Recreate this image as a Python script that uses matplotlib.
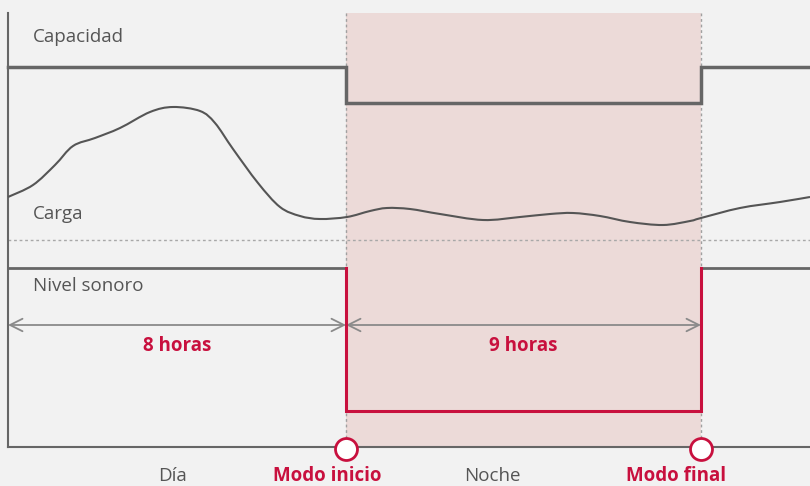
import numpy as np
import matplotlib.pyplot as plt
from matplotlib.path import Path
from matplotlib.patches import PathPatch

# schematic coordinates (x: time, y: level, top = 0)
x_start, x_mode_on, x_mode_off, x_end = 8, 346, 701, 810

cap_high, cap_low = 67, 103
noise_high, noise_low = 268, 411

carga_x = [8, 33, 55, 73, 95, 120, 150, 173, 200, 215, 233, 258, 280, 300, 320,
           347, 370, 387, 410, 440, 483, 520, 550, 573, 600, 630, 663, 690, 701,
           740, 780, 810]
carga_y = [197, 185, 165, 146, 138, 128, 112, 107, 111, 123, 149, 183, 207, 216, 219,
           217, 211, 208, 209, 214, 220, 217, 214, 213, 216, 222, 225, 221, 218,
           208, 202, 197]

hours_labels = ["8 horas", "9 horas"]
bottom_labels = ["Día", "Modo inicio", "Noche", "Modo final"]
bottom_x = [172, 327, 492, 676]
bottom_bold = [False, True, False, True]

bg = "#f2f2f2"
gray = "#666666"
red = "#c8103e"
shade = "#ecdad8"
txt = "#555555"

plt.rcParams['font.family'] = ['Open Sans', 'DejaVu Sans']

fig = plt.figure(figsize=(8.1, 4.86), dpi=100, facecolor=bg)
ax = fig.add_axes([0, 0, 1, 1])
ax.set_facecolor(bg)
ax.set_xlim(0, 810)
ax.set_ylim(486, 0)
ax.axis("off")

top, base = 13, 447

# night shading and boundaries
ax.fill_between([x_mode_on, x_mode_off], top, base, color=shade, lw=0, zorder=0)
for xv in (x_mode_on, x_mode_off):
    ax.plot([xv, xv], [top, base], color="#a0a0a0", lw=1, ls=(0, (2, 2)), zorder=1)
ax.plot([x_start, x_end], [240, 240], color="#a8a8a8", lw=1, ls=(0, (2, 2)), zorder=1)

# axes lines
ax.plot([x_start, x_start], [top, base], color=gray, lw=1.5, zorder=3)
ax.plot([x_start, x_end], [base, base], color=gray, lw=1.5, zorder=3)

# capacity
ax.plot([x_start, x_mode_on, x_mode_on, x_mode_off, x_mode_off, x_end],
        [cap_high, cap_high, cap_low, cap_low, cap_high, cap_high],
        color=gray, lw=2.5, solid_joinstyle="miter", zorder=3)

# load: smooth curve through the read points (Catmull-Rom as cubic Bezier)
pts = np.column_stack([carga_x, carga_y]).astype(float)
verts = [pts[0]]
codes = [Path.MOVETO]
for i in range(len(pts) - 1):
    p0 = pts[max(i - 1, 0)]
    p1 = pts[i]
    p2 = pts[i + 1]
    p3 = pts[min(i + 2, len(pts) - 1)]
    verts += [p1 + (p2 - p0) / 6, p2 - (p3 - p1) / 6, p2]
    codes += [Path.CURVE4] * 3
ax.add_patch(PathPatch(Path(verts, codes), fill=False, edgecolor="#555555",
                       lw=1.5, zorder=3))

# noise level
ax.plot([x_start, x_mode_on], [noise_high, noise_high], color=gray, lw=2, zorder=3)
ax.plot([x_mode_off, x_end], [noise_high, noise_high], color=gray, lw=2, zorder=3)
ax.plot([x_mode_on, x_mode_on, x_mode_off, x_mode_off],
        [noise_high, noise_low, noise_low, noise_high],
        color=red, lw=2.2, solid_joinstyle="miter", zorder=4)

# duration arrows
arrow_y = 325
for (a, b), lab in zip([(x_start, x_mode_on), (x_mode_on, x_mode_off)], hours_labels):
    ax.annotate("", xy=(b, arrow_y), xytext=(a, arrow_y),
                arrowprops=dict(arrowstyle="<->,head_length=0.9,head_width=0.45",
                                color="#8a8a8a", lw=1.3, shrinkA=0, shrinkB=0), zorder=3)
    ax.text((a + b) / 2, 346, lab, color=red, fontsize=13.5, fontweight="bold",
            ha="center", va="center", zorder=5)

# mode markers
ax.scatter([x_mode_on, x_mode_off], [base + 2, base + 2], s=250, facecolor="white",
           edgecolor=red, linewidth=2, zorder=6)

# series labels
ax.text(33, 37, "Capacidad", color=txt, fontsize=13.5, va="center")
ax.text(33, 214, "Carga", color=txt, fontsize=13.5, va="center")
ax.text(33, 286, "Nivel sonoro", color=txt, fontsize=13.5, va="center")

# bottom labels
for xv, lab, bold in zip(bottom_x, bottom_labels, bottom_bold):
    ax.text(xv, 476, lab, color=red if bold else txt, fontsize=13.5,
            fontweight="bold" if bold else "normal", ha="center", va="center")

fig.savefig("out.png", dpi=100, facecolor=bg)
